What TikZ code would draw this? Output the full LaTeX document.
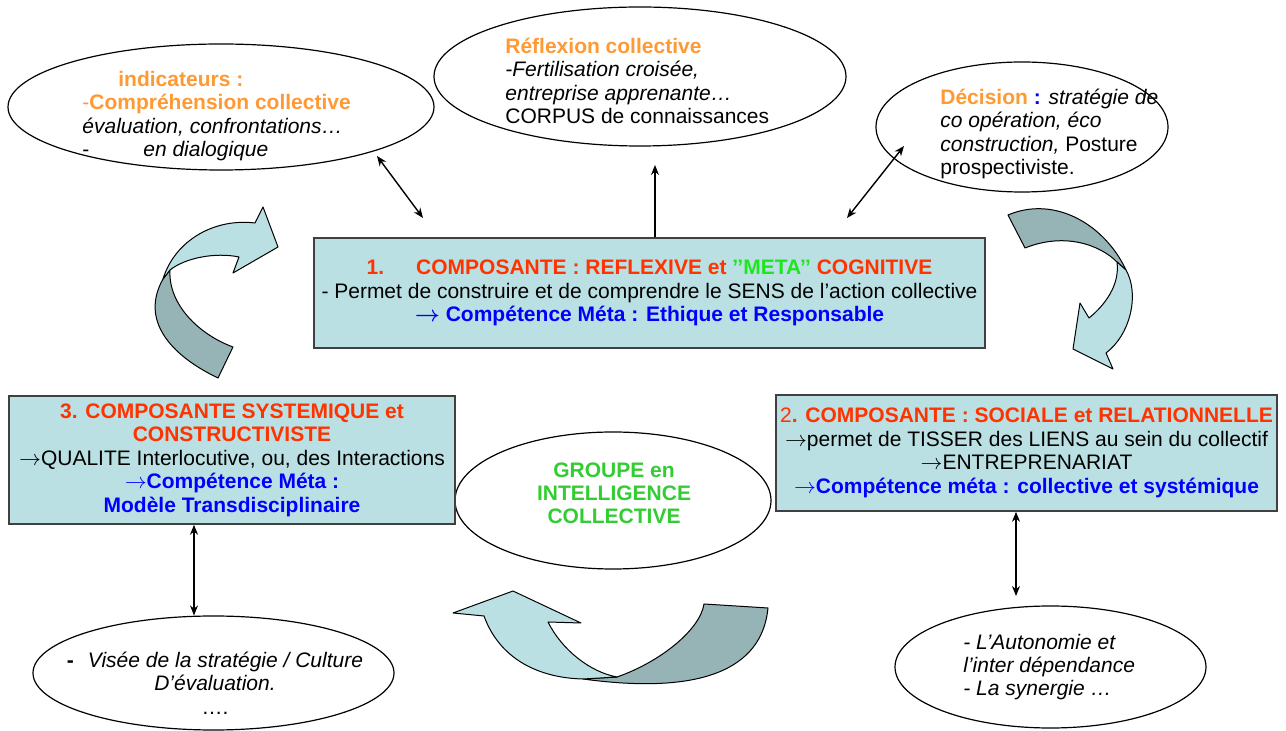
\documentclass[tikz,border=0pt]{standalone}
\usepackage{xcolor}
\usepackage{fontspec}
\usepackage{tikz}
\usetikzlibrary{shapes.geometric,arrows.meta}
\setmainfont{Liberation Sans}
\newcommand{\fleche}{\ensuremath{\rightarrow}}

\definecolor{boxcyan}{RGB}{187,224,227}
\definecolor{rubanclair}{RGB}{187,224,227}
\definecolor{rubanfonce}{RGB}{150,179,182}
\definecolor{titrerouge}{RGB}{255,51,0}
\definecolor{orangetxt}{RGB}{255,153,51}
\definecolor{vertmeta}{RGB}{30,230,30}
\definecolor{vertgroupe}{RGB}{51,204,51}
\definecolor{bleutxt}{RGB}{0,0,255}

\begin{document}
\begin{tikzpicture}[x=0.5pt,y=-0.5pt,
	box/.style={draw=black!75,line width=0.8pt,fill=boxcyan,rectangle,inner sep=0pt,align=center,font=\fontsize{10.5}{11.75}\selectfont},
	bulle/.style={draw,ellipse,line width=0.6pt,inner sep=0pt},
	txt/.style={inner sep=0pt,font=\fontsize{10.5}{11.7}\selectfont},
	link/.style={line width=0.7pt,{Stealth[length=5pt,width=4pt]}-{Stealth[length=5pt,width=4pt]}},
	single/.style={line width=0.7pt,-{Stealth[length=5pt,width=4pt]}},
	ruban/.style={draw,line width=0.5pt,line join=round}]
	\useasboundingbox (0,0) rectangle (1286,731);

	\node[bulle,minimum width=213pt,minimum height=63pt] (ind) at (221,107) {};
	\node[bulle,minimum width=206pt,minimum height=69.5pt] (refl) at (640,76.5) {};
	\node[bulle,minimum width=146pt,minimum height=65pt] (dec) at (1022,127) {};
	\node[bulle,minimum width=158pt,minimum height=68.5pt] (groupe) at (613,500.5) {};
	\node[bulle,minimum width=180.5pt,minimum height=57pt] (visee) at (213.5,673) {};
	\node[bulle,minimum width=155.5pt,minimum height=61pt] (auto) at (1050.5,667) {};

	\node[txt,anchor=west,align=left] (indtxt) at (82,116) {\hspace*{18pt}\textcolor{orangetxt}{\textbf{indicateurs :}}\\
		\textcolor{orangetxt}{-\textbf{Compréhension collective}}\\
		\textit{évaluation, confrontations…}\\
		-\hspace{27pt}\textit{en dialogique}};
	\node[txt,anchor=west,align=left] (refltxt) at (505,81) {\textcolor{orangetxt}{\textbf{Réflexion collective}}\\
		\textit{-Fertilisation croisée,}\\
		\textit{entreprise apprenante…}\\
		CORPUS de connaissances};
	\node[txt,anchor=west,align=left] (dectxt) at (940,134) {\textcolor{orangetxt}{\textbf{Décision}} \textcolor{bleutxt}{\textbf{:}} \textit{stratégie de}\\
		\textit{co opération, éco}\\
		\textit{construction,} Posture\\
		prospectiviste.};
	\node[txt,align=center,text=vertgroupe,font=\fontsize{10.5}{11.4}\selectfont\bfseries] (groupetxt) at (614,493) {GROUPE en\\INTELLIGENCE\\COLLECTIVE};
	\node[txt,align=center] (viseetxt) at (215,683) {\textbf{-}\hspace{7pt}\textit{Visée de la stratégie / Culture}\\
		\textit{D’évaluation.}\\
		….};
	\node[txt,anchor=west,align=left] (autotxt) at (963,667) {\textit{- L’Autonomie et}\\
		\textit{l’inter dépendance}\\
		\textit{- La synergie …}};

	\node[box,minimum width=335.5pt,minimum height=55pt] (comp1) at (649.5,293) {\textcolor{titrerouge}{\textbf{1.\hspace{16pt}COMPOSANTE : REFLEXIVE et \textcolor{vertmeta}{’’META’’} COGNITIVE}}\\
		- Permet de construire et de comprendre le SENS de l’action collective\\
		\textcolor{bleutxt}{\boldmath\textbf{\fleche{} Compétence Méta : Ethique et Responsable}}};
	\node[box,minimum width=223pt,minimum height=64pt] (comp3) at (232,460) {\textcolor{titrerouge}{\textbf{3. COMPOSANTE SYSTEMIQUE et}}\\
		\textcolor{titrerouge}{\textbf{CONSTRUCTIVISTE}}\\
		\fleche QUALITE Interlocutive, ou, des Interactions\\
		\textcolor{bleutxt}{\fleche\textbf{Compétence Méta :}}\\
		\textcolor{bleutxt}{\textbf{Modèle Transdisciplinaire}}};
	\node[box,minimum width=250.5pt,minimum height=58pt] (comp2) at (1026.5,453) {\textcolor{titrerouge}{2\textbf{. COMPOSANTE : SOCIALE et RELATIONNELLE}}\\
		\fleche permet de TISSER des LIENS au sein du collectif\\
		\fleche ENTREPRENARIAT\\
		\textcolor{bleutxt}{\fleche\textbf{Compétence méta : collective et systémique}}};

	\coordinate (p1a) at (377,156);
	\coordinate (p1b) at (423,218);
	\coordinate (p2) at (655,165);
	\coordinate (p3a) at (904,146);
	\coordinate (p3b) at (847,218);
	\coordinate (p5) at (1016,596);

	\draw[link] (p1a) -- (p1b);
	\draw[single] (p2 |- comp1.north) -- (p2);
	\draw[link] (p3a) -- (p3b);
	\draw[link] ([xshift=-19pt]comp3.south) -- ([xshift=-9.75pt]visee.north);
	\draw[link] (p5 |- comp2.south) -- (p5);

	\draw[ruban,fill=rubanfonce] (163,279) .. controls (140,320) and (170,355) .. (218,378) -- (233,347) .. controls (200,335) and (168,305) .. (170,270) -- cycle;
	\draw[ruban,fill=rubanclair] (170,270) .. controls (185,258) and (215,252) .. (239,257) -- (233,273) -- (278,247) -- (263,207) -- (255,223) .. controls (215,218) and (175,240) .. (163,279) -- cycle;

	\draw[ruban,fill=rubanfonce] (1008,215) .. controls (1055,195) and (1105,225) .. (1126,270) -- (1117,262) .. controls (1100,245) and (1065,232) .. (1025,248) -- cycle;
	\draw[ruban,fill=rubanclair] (1117,262) .. controls (1120,285) and (1105,305) .. (1089,318) -- (1080,303) -- (1073,349) -- (1113,369) -- (1106,353) .. controls (1130,335) and (1140,295) .. (1126,270) -- cycle;

	\draw[ruban,fill=rubanfonce] (583,679) -- (617,677) .. controls (660,662) and (700,630) .. (704,604) -- (768,608) .. controls (762,670) and (700,695) .. (583,679) -- cycle;
	\draw[ruban,fill=rubanclair] (617,677) .. controls (590,672) and (562,650) .. (548,622) -- (581,623) -- (513,591) -- (453,613) -- (484,616) .. controls (500,660) and (540,678) .. (583,679) -- cycle;
\end{tikzpicture}
\end{document}
